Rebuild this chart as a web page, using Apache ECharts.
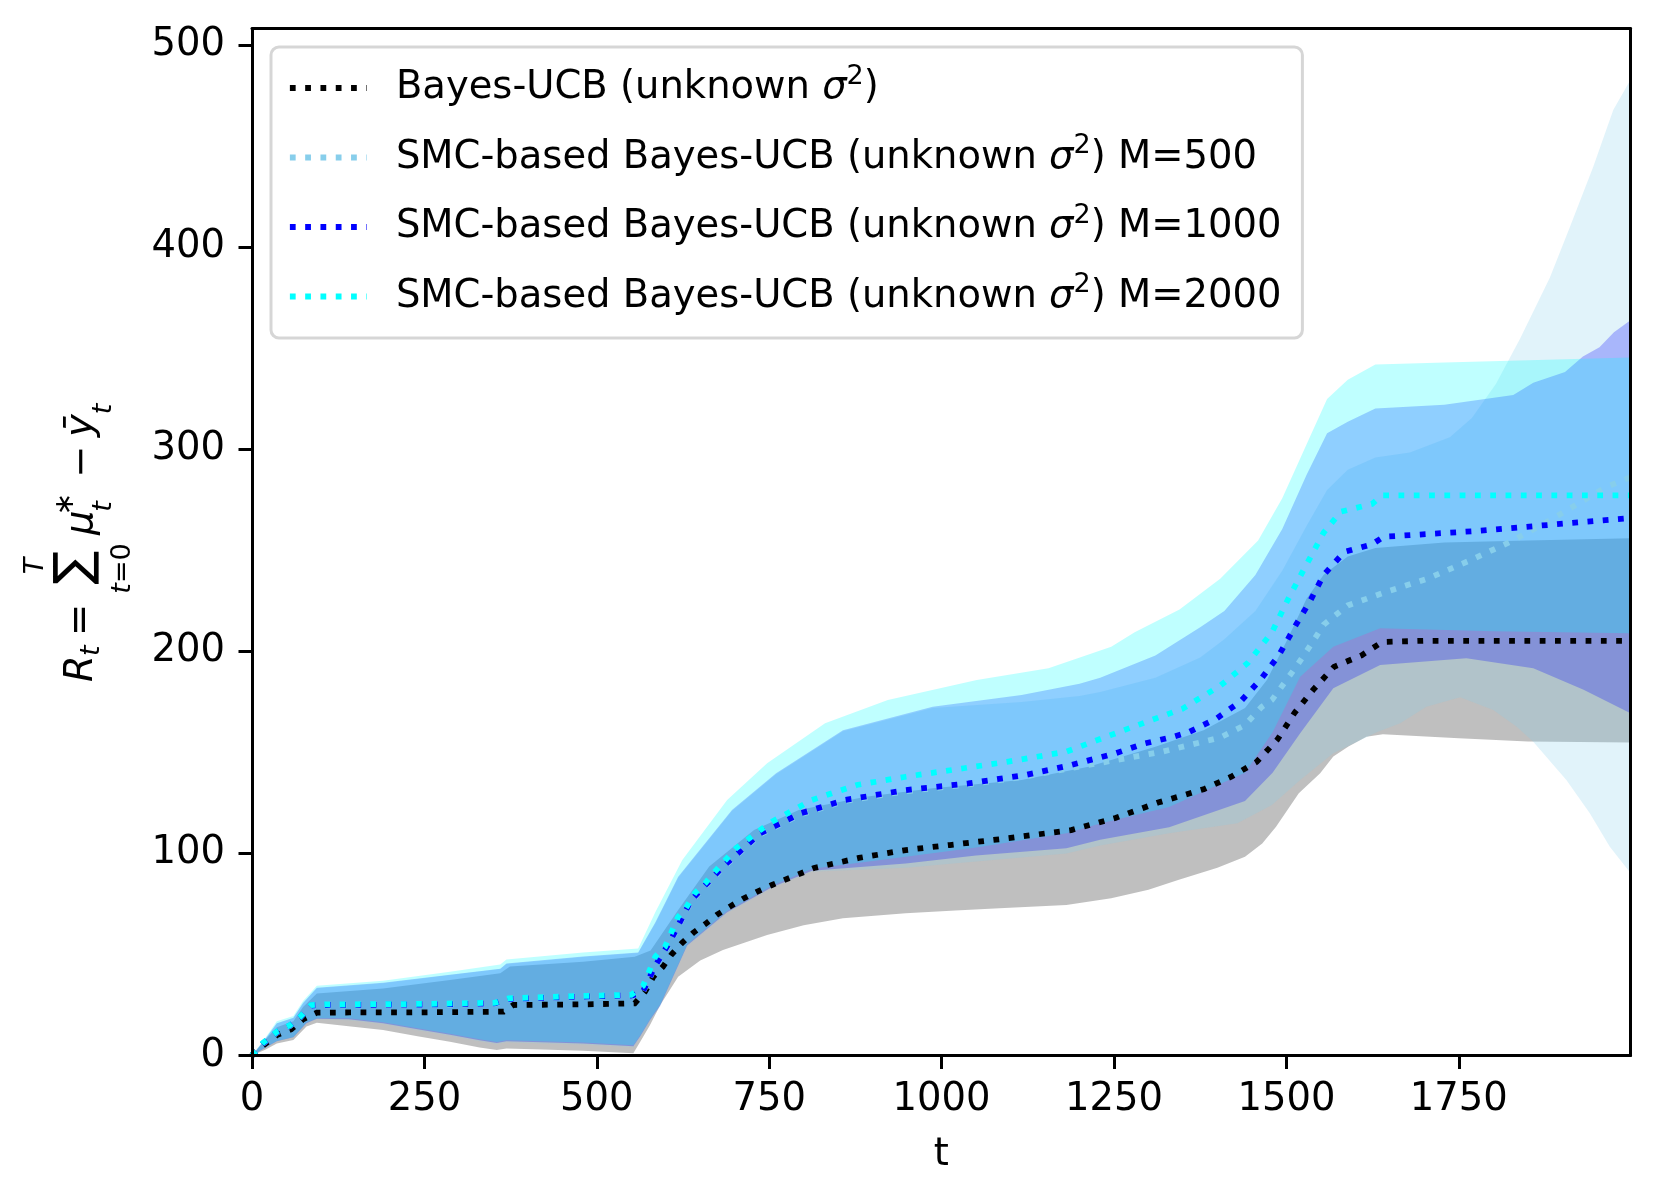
<!DOCTYPE html>
<html><head><meta charset="utf-8">
<script src="https://cdn.jsdelivr.net/npm/echarts@6/dist/echarts.min.js"></script>
<style>html,body{margin:0;padding:0;background:#fff}#c{width:1659px;height:1201px}</style>
</head><body><div id="c"></div>
<script>
// ---------------- data ----------------
const xTicks = [0, 250, 500, 750, 1000, 1250, 1500, 1750];
const yTicks = [0, 100, 200, 300, 400, 500];
const seriesNames = [
  'Bayes-UCB (unknown σ²)',
  'SMC-based Bayes-UCB (unknown σ²) M=500',
  'SMC-based Bayes-UCB (unknown σ²) M=1000',
  'SMC-based Bayes-UCB (unknown σ²) M=2000'
];

// Bayes-UCB (black)
const blackMean = [[0,0],[4,1.9],[20,6],[36,10.1],[57,13],[74,17.9],[94,21.2],[142,21.3],[224,21.3],[335,21.6],[365,21.7],[379,25],[480,25.3],[555,25.8],[570,31.6],[582,39],[596,44],[608,49.8],[623,55.5],[640,60.8],[657,65],[674,69.6],[693,73.7],[712,77.6],[732,81],[754,84.4],[815,92.8],[880,97.8],[948,101.7],[1012,104.2],[1100,107.7],[1188,111.6],[1252,117.6],[1314,125.2],[1380,131.8],[1420,138],[1457,145.4],[1487,156.4],[1512,169.7],[1539,181.1],[1569,192.4],[1609,198.1],[1639,204.7],[1700,205.3],[1999,205.3]];
const blackLo = [[0,0],[20,3],[36,6],[60,7.7],[79,14.3],[94,16.2],[140,14.5],[190,12.6],[240,9.5],[287,6.8],[330,4],[355,2.7],[369,3.5],[420,3],[480,2.4],[553,1.1],[563,6.8],[577,15],[592,25],[618,39],[650,47],[683,52.2],[747,59.7],[800,64.5],[857,67.9],[948,70.4],[1020,71.8],[1084,72.9],[1181,74.5],[1246,77.8],[1300,82],[1343,86.9],[1400,93],[1440,98.4],[1465,105],[1485,113.3],[1518,129.8],[1549,139.7],[1568,148],[1590,153],[1616,157.8],[1640,159],[1750,157],[1850,155.5],[1999,155]];
const blackHi = [[0,0],[20,8],[36,14],[60,17],[74,24],[94,30.7],[190,33.2],[287,37.4],[360,40.7],[374,44],[480,46.4],[555,48.9],[578,52],[618,72],[663,93.5],[728,111.6],[793,121.5],[890,128.1],[987,132.3],[1116,136.4],[1213,143],[1310,152.9],[1380,161],[1440,172],[1472,186],[1500,205],[1529,226],[1554,238],[1589,247],[1629,251.2],[1729,254],[1850,255],[1999,256]];

// M=500 (skyblue)
const skyMean = [[0,0],[16,5.8],[36,11.3],[55,14.6],[70,18.8],[86,24.5],[108,24.8],[239,25],[352,25.6],[372,27.8],[480,29],[550,29.5],[566,30.8],[584,43.5],[605,55.2],[637,76.5],[683,93],[737,109.5],[796,119.4],[860,126],[948,130.8],[1039,134.2],[1120,138],[1213,143.8],[1320,150.4],[1404,157.4],[1440,163.6],[1464,172.5],[1479,176],[1514,192.4],[1540,205.7],[1554,213.3],[1589,222.8],[1644,229.4],[1704,236],[1769,245.5],[1829,255],[1889,266.3],[1964,281.5],[1999,286.2]];
const skyLo = [[0,0],[20,4],[36,7],[60,9],[79,16],[94,18],[140,17.5],[190,15.6],[240,12.5],[287,9.8],[330,7],[355,5.7],[369,6.5],[420,6],[480,5.4],[553,4.1],[563,9],[577,17],[592,24.2],[631,53.9],[689,70.4],[754,82.8],[812,91],[880,92],[948,93],[1050,96],[1181,100],[1230,104],[1330,110],[1429,115],[1479,124],[1520,136.4],[1568,149.6],[1631,160],[1665,164.5],[1703,172.7],[1752,177.3],[1800,171],[1834,162.8],[1858,155.3],[1906,136.4],[1940,119.9],[1969,103.4],[1999,90.3]];
const skyHi = [[0,0],[20,8.3],[36,15.8],[60,18.5],[74,25.8],[94,33.3],[190,35.8],[287,39.8],[360,42.8],[369,45.3],[480,48.8],[560,50.8],[585,65.5],[618,88],[696,121],[760,139.2],[857,160.5],[987,172],[1116,175],[1200,178],[1230,180],[1310,187],[1375,197],[1410,206],[1455,220],[1494,240],[1529,262],[1559,280],[1589,290],[1629,296],[1679,298.5],[1737,306],[1769,315.6],[1804,332.6],[1839,355],[1882,385],[1911,410],[1945,440],[1974,468],[1999,483]];

// M=1000 (blue)
const blueMean = [[0,0],[16,6],[36,11.5],[55,14.8],[70,19],[86,24.7],[108,25],[239,25.2],[352,25.8],[372,28],[480,29.2],[550,29.7],[566,31],[584,44],[605,55.7],[637,77],[683,93.5],[737,110],[796,119.9],[860,126.5],[948,131.4],[1039,134.7],[1122,138.9],[1188,143.8],[1252,149.6],[1295,154.5],[1336,157.8],[1359,160.2],[1399,166.9],[1434,175.4],[1464,186.7],[1489,198.1],[1514,213.3],[1534,224.7],[1554,237.9],[1584,249.3],[1624,253],[1641,256.8],[1779,259.7],[1909,263.5],[1999,266]];
const blueLo = [[0,0],[20,4],[36,7],[60,9],[79,16],[94,18.2],[140,18],[190,16],[240,13],[287,10.3],[330,7.5],[355,6.2],[369,7],[420,6.5],[480,5.9],[553,4.6],[563,9.5],[577,17.5],[592,24.7],[631,54.4],[689,70.9],[754,83.3],[812,91.5],[948,95.1],[1050,99],[1181,102.6],[1230,106.8],[1330,113],[1440,126],[1480,140],[1520,159.5],[1568,181.8],[1636,193.3],[1761,196.6],[1858,191.7],[1931,181],[1999,169.4]];
const blueHi = [[0,0],[20,8.5],[36,16],[60,18.7],[74,26],[94,33.5],[190,36],[287,40],[360,43],[369,45.5],[480,49],[560,51],[585,66],[618,88.5],[696,121.5],[760,139.7],[857,161],[987,172.7],[1116,178.5],[1200,184],[1230,187],[1310,198],[1375,212],[1410,220],[1455,237.9],[1494,260.6],[1529,287.2],[1559,308],[1589,313.7],[1629,320.3],[1729,322.2],[1829,327],[1858,333],[1904,338.4],[1930,346],[1954,350.6],[1975,358],[1999,364]];

// M=2000 (cyan)
const cyanMean = [[0,0],[16,6.3],[36,11.8],[55,15],[70,19.2],[86,25],[108,25.3],[239,25.5],[352,26.1],[372,28.3],[480,29.5],[550,30],[567,34.4],[585,49],[599,53.9],[608,60.8],[618,68.7],[628,72.4],[642,80.3],[657,85.2],[669,90.2],[702,102.6],[737,111.6],[754,115.7],[812,126.5],[877,133.9],[948,138],[1032,142.2],[1097,145.5],[1181,150.4],[1246,158.7],[1300,165.5],[1349,171.6],[1404,183],[1444,194.3],[1479,209.5],[1502,225.6],[1524,239.8],[1554,258.8],[1579,269.2],[1624,273],[1639,277.3],[1999,277.3]];
const cyanLo = [[0,0],[20,4.2],[36,7.2],[60,9.2],[79,16.3],[94,18.5],[140,18.5],[190,16.5],[240,13.5],[287,10.8],[330,8],[355,6.7],[369,7.5],[420,7],[480,6.4],[553,5.1],[563,10],[577,18],[592,25.2],[631,55],[689,71.5],[754,84],[812,92.5],[948,98.4],[1050,103],[1181,110],[1230,114.8],[1330,123],[1440,140],[1480,160],[1520,187.5],[1568,202.4],[1636,211.5],[1800,210],[1999,209]];
const cyanHi = [[0,0],[20,9],[36,17],[60,19.5],[74,27],[94,34.5],[190,37],[287,41.5],[360,45],[369,47.5],[480,51],[560,53],[585,71],[624,96.8],[689,126.5],[747,144.7],[831,164.5],[922,176],[1051,185.9],[1155,191.7],[1246,202.4],[1280,209.5],[1345,220.8],[1404,236],[1459,255],[1494,275.8],[1529,302.3],[1559,325],[1589,334.5],[1629,342.1],[1729,343],[1999,345.5]];

// ---------------- style ----------------
const FS = 38.5, FSS = 27, FF = 'DejaVu Sans';
const LW = 5.77;
const DASH = [LW * 1.0, LW * 1.65];
const lineColors = ['#000000', '#87ceeb', '#0000ff', '#00ffff'];
const bandFills = ['rgba(0,0,0,0.25)', 'rgba(135,206,235,0.25)', 'rgba(0,0,255,0.25)', 'rgba(0,255,255,0.25)'];
const means = [blackMean, skyMean, blueMean, cyanMean];
const los = [blackLo, skyLo, blueLo, cyanLo];
const his = [blackHi, skyHi, blueHi, cyanHi];

function bandSeries(i) {
  const lo = los[i], hi = his[i];
  return {
    type: 'custom', name: 'band' + i, coordinateSystem: 'cartesian2d',
    silent: true, z: 2, clip: true, animation: false,
    data: [hi[0]],
    renderItem: function (params, api) {
      const pts = hi.map(p => api.coord(p)).concat(lo.slice().reverse().map(p => api.coord(p)));
      return { type: 'polygon', shape: { points: pts }, style: { fill: bandFills[i], stroke: null } };
    }
  };
}
function lineSeries(i) {
  return {
    type: 'line', name: seriesNames[i], data: means[i], symbol: 'none', showSymbol: false,
    z: 3, silent: true, animation: false, emphasis: { disabled: true },
    lineStyle: { color: lineColors[i], width: LW, type: DASH, cap: 'butt', join: 'miter' },
    itemStyle: { color: lineColors[i] }
  };
}

const spine = { show: true, onZero: false, lineStyle: { color: '#000', width: 3 } };
const tickStyle = { color: '#000', width: 3 };
const lblStyle = { fontSize: FS, fontFamily: FF, color: '#000' };

function legendFmt(name) {
  const parts = name.split('σ²');
  return '{a|' + parts[0] + '}{i|σ}{s|2}{a|' + parts[1] + '}';
}

const yLabelChildren = [
  { type: 'text', x: 0, y: -13.5, style: { text: 'R', fontSize: FS, fontFamily: FF, fontStyle: 'italic', fill: '#000', align: 'left', verticalAlign: 'middle' } },
  { type: 'text', x: 26, y: -3.5, style: { text: 't', fontSize: FSS, fontFamily: FF, fontStyle: 'italic', fill: '#000', align: 'left', verticalAlign: 'middle' } },
  { type: 'text', x: 46, y: -13.5, style: { text: '=', fontSize: FS, fontFamily: FF, fill: '#000', align: 'left', verticalAlign: 'middle' } },
  { type: 'text', x: 114, y: -18.5, style: { text: '∑', fontSize: 50, fontFamily: FF, fill: '#000', align: 'center', verticalAlign: 'middle' } },
  { type: 'text', x: 116, y: -59.5, style: { text: 'T', fontSize: FSS, fontFamily: FF, fontStyle: 'italic', fill: '#000', align: 'center', verticalAlign: 'middle' } },
  { type: 'text', x: 113.5, y: 27.5, style: { text: '{i|t}{n|=0}', fill: '#000', align: 'center', verticalAlign: 'middle',
      rich: { i: { fontSize: FSS, fontFamily: FF, fontStyle: 'italic', fill: '#000' }, n: { fontSize: FSS, fontFamily: FF, fill: '#000' } } } },
  { type: 'text', x: 147, y: -13.5, style: { text: 'μ', fontSize: FS, fontFamily: FF, fontStyle: 'italic', fill: '#000', align: 'left', verticalAlign: 'middle' } },
  { type: 'text', x: 178, y: -29, style: { text: '∗', fontSize: FSS, fontFamily: FF, fill: '#000', align: 'center', verticalAlign: 'middle' } },
  { type: 'text', x: 175.5, y: 9, style: { text: 't', fontSize: FSS, fontFamily: FF, fontStyle: 'italic', fill: '#000', align: 'center', verticalAlign: 'middle' } },
  { type: 'text', x: 220.5, y: -12.5, style: { text: '−', fontSize: FS, fontFamily: FF, fill: '#000', align: 'center', verticalAlign: 'middle' } },
  { type: 'text', x: 245, y: -13.5, style: { text: 'ȳ', fontSize: FS, fontFamily: FF, fontStyle: 'italic', fill: '#000', align: 'left', verticalAlign: 'middle' } },
  { type: 'text', x: 273, y: 8.5, style: { text: 't', fontSize: FSS, fontFamily: FF, fontStyle: 'italic', fill: '#000', align: 'center', verticalAlign: 'middle' } }
];

const plainNum = v => String(Math.round(v));

const option = {
  animation: false,
  backgroundColor: '#ffffff',
  textStyle: { fontFamily: FF },
  grid: { left: 252, right: 28.5, top: 28.5, bottom: 145.5, containLabel: false, outerBoundsMode: 'none', show: false },
  legend: {
    show: true, orient: 'vertical', left: 271, top: 47, padding: [16, 21, 22, 16],
    itemGap: 25, itemWidth: 77, itemHeight: 1, selectedMode: false,
    backgroundColor: 'rgba(255,255,255,0.8)', borderColor: 'rgba(204,204,204,0.8)', borderWidth: 3, borderRadius: 8,
    data: seriesNames,
    itemStyle: { opacity: 0, color: 'rgba(0,0,0,0)', borderWidth: 0 },
    lineStyle: { width: LW, opacity: 1 },
    formatter: legendFmt,
    textStyle: {
      fontSize: FS, fontFamily: FF, color: '#000', padding: [0, 0, 0, 24],
      rich: {
        a: { fontSize: FS, fontFamily: FF, color: '#000', lineHeight: 50 },
        i: { fontSize: FS, fontFamily: FF, fontStyle: 'italic', color: '#000', lineHeight: 50 },
        s: { fontSize: FSS, fontFamily: FF, color: '#000', lineHeight: 24, verticalAlign: 'top' }
      }
    }
  },
  xAxis: [
    { type: 'value', min: 0, max: 1999, position: 'bottom', z: 10,
      axisLine: spine,
      axisTick: { show: true, inside: false, length: 13.5, lineStyle: tickStyle, customValues: xTicks },
      axisLabel: Object.assign({ show: true, margin: 25, customValues: xTicks, formatter: plainNum }, lblStyle),
      splitLine: { show: false },
      name: 't', nameLocation: 'middle', nameGap: 80, nameTextStyle: lblStyle },
    { type: 'value', min: 0, max: 1999, position: 'top', z: 10,
      axisLine: spine, axisTick: { show: false }, axisLabel: { show: false }, splitLine: { show: false } }
  ],
  yAxis: [
    { type: 'value', min: 0, max: 508.4, position: 'left', z: 10,
      axisLine: spine,
      axisTick: { show: true, inside: false, length: 13.5, lineStyle: tickStyle, customValues: yTicks },
      axisLabel: Object.assign({ show: true, margin: 27, customValues: yTicks, formatter: plainNum }, lblStyle),
      splitLine: { show: false } },
    { type: 'value', min: 0, max: 508.4, position: 'right', z: 10,
      axisLine: spine, axisTick: { show: false }, axisLabel: { show: false }, splitLine: { show: false } }
  ],
  graphic: [
    { type: 'group', x: 95, y: 682, rotation: Math.PI / 2, silent: true, children: yLabelChildren }
  ],
  series: [0, 1, 2, 3].map(bandSeries).concat([0, 1, 2, 3].map(lineSeries))
};

const chart = echarts.init(document.getElementById('c'), null, { renderer: 'canvas', width: 1659, height: 1201 });
chart.setOption(option);
</script>
</body></html>
